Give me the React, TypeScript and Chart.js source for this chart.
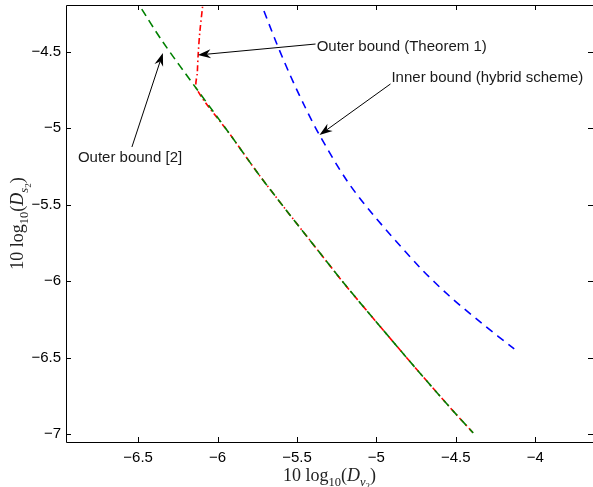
import React, { useEffect, useRef } from "react";
import { Chart, registerables } from "chart.js";

Chart.register(...registerables);

// Axis ranges and ticks
const X_MIN = -6.954;
const X_MAX = -3.636;
const Y_MIN = -7.052;
const Y_MAX = -4.196;
const xTickValues = [-6.5, -6, -5.5, -5, -4.5, -4];
const yTickValues = [-7, -6.5, -6, -5.5, -5, -4.5];

// Outer bound [2] (green dashed)
const outer2X = [-6.518, -6.489, -6.344, -6.131, -5.923, -5.747, -5.578, -5.37, -5.2, -4.968, -4.748, -4.522, -4.39];
const outer2Y = [-4.15, -4.203, -4.438, -4.745, -5.039, -5.294, -5.523, -5.797, -6.02, -6.307, -6.575, -6.843, -6.993];

// Outer bound (Theorem 1) (red dash-dot)
const outerThmX = [-6.088, -6.093, -6.112, -6.122, -6.127, -6.131, -5.923, -5.747, -5.578, -5.37, -5.2, -4.968, -4.748, -4.522, -4.39];
const outerThmY = [-4.15, -4.196, -4.379, -4.523, -4.634, -4.745, -5.039, -5.294, -5.523, -5.797, -6.02, -6.307, -6.575, -6.843, -6.993];

// Inner bound (hybrid scheme) (blue dashed)
const innerX = [-5.739, -5.722, -5.634, -5.546, -5.452, -5.358, -5.188, -5.024, -4.729, -4.54, -4.339, -4.132];
const innerY = [-4.15, -4.196, -4.431, -4.647, -4.856, -5.046, -5.34, -5.562, -5.908, -6.098, -6.274, -6.444];

// Annotations: label, text position (left, baseline), arrow tail, arrow tip (data units)
const annLabels = ["Outer bound (Theorem 1)", "Inner bound (hybrid scheme)", "Outer bound [2]"];
const annTextX = [-5.376, -4.905, -6.879];
const annTextY = [-4.497, -4.699, -5.222];
const annTailX = [-5.383, -4.911, -6.539];
const annTailY = [-4.451, -4.712, -5.124];
const annTipX = [-6.124, -5.358, -6.344];
const annTipY = [-4.523, -5.046, -4.51];

const fontSans = '"Liberation Sans", Arial, Helvetica, sans-serif';
const fontSerif = '"Liberation Serif", "Times New Roman", serif';

type Part = { t: string; size: number; italic?: boolean; dy?: number };
const xTitleParts: Part[] = [
  { t: "10 log", size: 18 },
  { t: "10", size: 12.5, dy: 4.5 },
  { t: "(", size: 18 },
  { t: "D", size: 18, italic: true },
  { t: "v", size: 12.5, italic: true, dy: 4.5 },
  { t: "2", size: 9, dy: 7.5 },
  { t: ")", size: 18 },
];
const yTitleParts: Part[] = [
  { t: "10 log", size: 18 },
  { t: "10", size: 12.5, dy: 4.5 },
  { t: "(", size: 18 },
  { t: "D", size: 18, italic: true },
  { t: "s", size: 12.5, italic: true, dy: 4.5 },
  { t: "2", size: 9, dy: 7.5 },
  { t: ")", size: 18 },
];

const zip = (xs: number[], ys: number[]) => xs.map((x, i) => ({ x, y: ys[i] }));
const fmt = (v: number) => String(v).replace("-", "\u2212");

function drawParts(ctx: CanvasRenderingContext2D, parts: Part[], cx: number, baseline: number) {
  let total = 0;
  const widths = parts.map((p) => {
    ctx.font = `${p.italic ? "italic " : ""}${p.size}px ${fontSerif}`;
    const w = ctx.measureText(p.t).width;
    total += w;
    return w;
  });
  let x = cx - total / 2;
  ctx.textAlign = "left";
  ctx.textBaseline = "alphabetic";
  parts.forEach((p, i) => {
    ctx.font = `${p.italic ? "italic " : ""}${p.size}px ${fontSerif}`;
    ctx.fillText(p.t, x, baseline + (p.dy || 0));
    x += widths[i];
  });
}

const framePlugin = {
  id: "frame",
  afterDraw(chart: any) {
    const { ctx, chartArea, scales } = chart;
    const { left, right, top, bottom } = chartArea;
    const xs = scales.x;
    const ys = scales.y;
    ctx.save();
    ctx.strokeStyle = "#000";
    ctx.lineWidth = 1;
    ctx.beginPath();
    ctx.moveTo(right + 0.5, top + 0.5);
    ctx.lineTo(left + 0.5, top + 0.5);
    ctx.lineTo(left + 0.5, bottom + 0.5);
    ctx.lineTo(right + 0.5, bottom + 0.5);
    ctx.stroke();
    const tl = 5;
    ctx.beginPath();
    xTickValues.forEach((v) => {
      const px = Math.round(xs.getPixelForValue(v)) + 0.5;
      ctx.moveTo(px, bottom);
      ctx.lineTo(px, bottom - tl);
      ctx.moveTo(px, top);
      ctx.lineTo(px, top + tl);
    });
    yTickValues.forEach((v) => {
      const py = Math.round(ys.getPixelForValue(v)) + 0.5;
      ctx.moveTo(left, py);
      ctx.lineTo(left + tl, py);
      ctx.moveTo(right, py);
      ctx.lineTo(right - tl, py);
    });
    ctx.stroke();

    // annotations
    ctx.font = `15px ${fontSans}`;
    ctx.textAlign = "left";
    ctx.textBaseline = "alphabetic";
    annLabels.forEach((lab, i) => {
      ctx.fillStyle = "#1a1a1a";
      ctx.font = `15px ${fontSans}`;
      ctx.fillText(lab, xs.getPixelForValue(annTextX[i]), ys.getPixelForValue(annTextY[i]));
      const tx = xs.getPixelForValue(annTailX[i]);
      const ty = ys.getPixelForValue(annTailY[i]);
      const hx = xs.getPixelForValue(annTipX[i]);
      const hy = ys.getPixelForValue(annTipY[i]);
      const dx = hx - tx;
      const dy = hy - ty;
      const len = Math.hypot(dx, dy);
      const ux = dx / len;
      const uy = dy / len;
      const nx = -uy;
      const ny = ux;
      const L = 13;
      const W = 4.5;
      const N = 4;
      ctx.lineWidth = 1;
      ctx.beginPath();
      ctx.moveTo(tx, ty);
      ctx.lineTo(hx - ux * (L - N), hy - uy * (L - N));
      ctx.stroke();
      ctx.fillStyle = "#000";
      ctx.beginPath();
      ctx.moveTo(hx, hy);
      ctx.lineTo(hx - ux * L + nx * W, hy - uy * L + ny * W);
      ctx.lineTo(hx - ux * (L - N), hy - uy * (L - N));
      ctx.lineTo(hx - ux * L - nx * W, hy - uy * L - ny * W);
      ctx.closePath();
      ctx.fill();
    });

    // axis titles
    ctx.fillStyle = "#222";
    drawParts(ctx, xTitleParts, (left + right) / 2, 481);
    ctx.save();
    ctx.translate(23, (top + bottom) / 2);
    ctx.rotate(-Math.PI / 2);
    drawParts(ctx, yTitleParts, 0, 0);
    ctx.restore();
    ctx.restore();
  },
};

export default function App() {
  const ref = useRef<HTMLCanvasElement | null>(null);
  useEffect(() => {
    if (!ref.current) return;
    const tickFont = { family: fontSans, size: 15 };
    const chart = new Chart(ref.current, {
      type: "line",
      data: {
        datasets: [
          {
            label: "Outer bound [2]",
            data: zip(outer2X, outer2Y),
            borderColor: "#008000",
            borderWidth: 1.6,
            borderDash: [8, 5],
            pointRadius: 0,
            tension: 0.3,
            fill: false,
            order: 0,
          },
          {
            label: "Outer bound (Theorem 1)",
            data: zip(outerThmX, outerThmY),
            borderColor: "#ff0000",
            borderWidth: 1.6,
            borderDash: [6, 3, 1.5, 3],
            pointRadius: 0,
            tension: 0.3,
            fill: false,
            order: 1,
          },
          {
            label: "Inner bound (hybrid scheme)",
            data: zip(innerX, innerY),
            borderColor: "#0000ff",
            borderWidth: 1.6,
            borderDash: [8, 6],
            pointRadius: 0,
            tension: 0.3,
            fill: false,
            order: 2,
          },
        ],
      },
      options: {
        animation: false,
        responsive: false,
        events: [],
        layout: { padding: { top: 5, left: 0, right: -1, bottom: 0 } },
        plugins: { legend: { display: false }, tooltip: { enabled: false } },
        scales: {
          x: {
            type: "linear",
            min: X_MIN,
            max: X_MAX,
            afterBuildTicks: (s: any) => {
              s.ticks = xTickValues.map((v) => ({ value: v }));
            },
            afterFit: (s: any) => {
              s.height = 45;
              s.paddingLeft = 0;
              s.paddingRight = 0;
              s.paddingTop = 0;
              s.paddingBottom = 0;
            },
            grid: { display: false, drawTicks: false },
            border: { display: false },
            ticks: {
              font: tickFont,
              color: "#000",
              padding: 7,
              maxRotation: 0,
              autoSkip: false,
              callback: (v: any) => fmt(Number(v)),
            },
          },
          y: {
            type: "linear",
            min: Y_MIN,
            max: Y_MAX,
            afterBuildTicks: (s: any) => {
              s.ticks = yTickValues.map((v) => ({ value: v }));
            },
            afterFit: (s: any) => {
              s.width = 66;
              s.paddingLeft = 0;
              s.paddingRight = 0;
              s.paddingTop = 0;
              s.paddingBottom = 0;
            },
            grid: { display: false, drawTicks: false },
            border: { display: false },
            ticks: {
              font: tickFont,
              color: "#000",
              padding: 5,
              autoSkip: false,
              callback: (v: any) => fmt(Number(v)),
            },
          },
        },
      },
      plugins: [framePlugin],
    });
    return () => chart.destroy();
  }, []);
  return (
    <div style={{ position: "fixed", left: 0, top: 0, width: 593, height: 487, background: "#fff" }}>
      <canvas ref={ref} width={593} height={487} />
    </div>
  );
}
